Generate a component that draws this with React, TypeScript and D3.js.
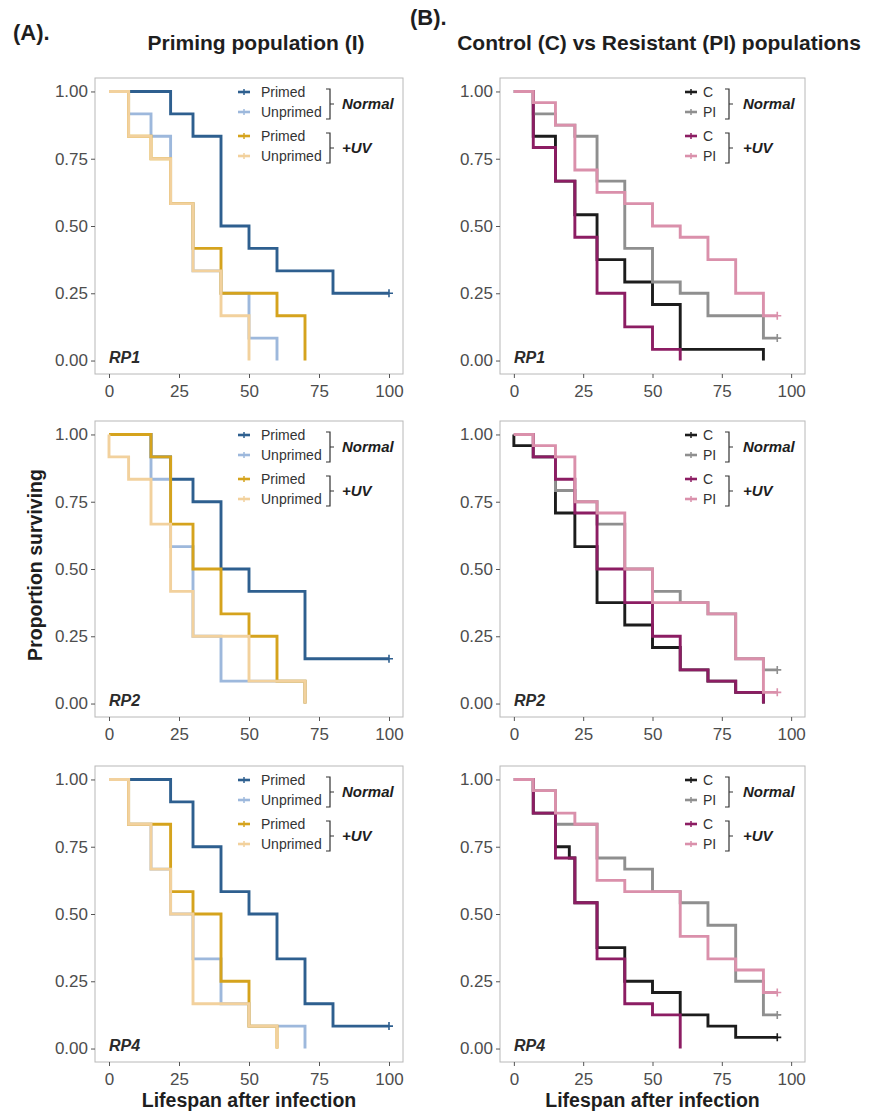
import React, { useRef, useEffect } from "react";
import * as d3 from "d3";

const xTicks = [0, 25, 50, 75, 100];
const yTicks = [0, 0.25, 0.5, 0.75, 1];
const yTickLabels = ["0.00", "0.25", "0.50", "0.75", "1.00"];

// priming population (I), 12 per group: [day, alive]
const rp1Primed = [[0, 12], [22, 11], [30, 10], [40, 6], [50, 5], [60, 4], [80, 3], [100, 3]];
const rp1Unprimed = [[0, 12], [7, 11], [15, 10], [22, 7], [30, 4], [40, 3], [50, 1], [60, 0]];
const rp1PrimedUV = [[0, 12], [7, 10], [15, 9], [22, 7], [30, 5], [40, 3], [60, 2], [70, 0]];
const rp1UnprimedUV = [[0, 12], [7, 10], [15, 9], [22, 7], [30, 4], [40, 2], [50, 0]];

const rp2Primed = [[0, 12], [15, 11], [22, 10], [30, 9], [40, 6], [50, 5], [70, 2], [100, 2]];
const rp2Unprimed = [[0, 12], [15, 10], [22, 7], [30, 3], [40, 1], [70, 0]];
const rp2PrimedUV = [[0, 12], [15, 11], [22, 8], [30, 6], [40, 4], [50, 3], [60, 1], [70, 0]];
const rp2UnprimedUV = [[0, 12], [0, 11], [7, 10], [15, 8], [22, 5], [30, 3], [50, 1], [70, 0]];

const rp4Primed = [[0, 12], [22, 11], [30, 9], [40, 7], [50, 6], [60, 4], [70, 2], [80, 1], [100, 1]];
const rp4Unprimed = [[0, 12], [7, 10], [15, 8], [22, 6], [30, 4], [40, 2], [50, 1], [70, 0]];
const rp4PrimedUV = [[0, 12], [7, 10], [22, 7], [30, 6], [40, 3], [50, 1], [60, 0]];
const rp4UnprimedUV = [[0, 12], [7, 10], [15, 8], [22, 6], [30, 2], [50, 1], [60, 0]];

// control vs resistant, 24 per group
const rp1C = [[0, 24], [7, 20], [15, 16], [22, 13], [30, 9], [40, 7], [50, 5], [60, 1], [90, 0]];
const rp1PI = [[0, 24], [7, 22], [15, 21], [22, 20], [30, 16], [40, 10], [50, 7], [60, 6], [70, 4], [90, 2], [95, 2]];
const rp1CUV = [[0, 24], [7, 19], [15, 16], [22, 11], [30, 6], [40, 3], [50, 1], [60, 0]];
const rp1PIUV = [[0, 24], [7, 23], [15, 21], [22, 17], [30, 15], [40, 14], [50, 12], [60, 11], [70, 9], [80, 6], [90, 4], [95, 4]];

const rp2C = [[0, 24], [0, 23], [7, 22], [15, 17], [22, 14], [30, 9], [40, 7], [50, 5], [60, 3], [70, 2], [80, 1], [90, 0]];
const rp2PI = [[0, 24], [7, 22], [15, 19], [22, 18], [30, 16], [40, 12], [50, 10], [60, 9], [70, 8], [80, 4], [90, 3], [95, 3]];
const rp2CUV = [[0, 24], [7, 22], [15, 20], [22, 17], [30, 12], [40, 9], [50, 6], [60, 3], [70, 2], [80, 1], [90, 0]];
const rp2PIUV = [[0, 24], [7, 23], [15, 22], [22, 18], [30, 17], [40, 12], [50, 9], [70, 8], [80, 4], [90, 1], [95, 1]];

const rp4C = [[0, 24], [7, 21], [15, 18], [20, 17], [22, 13], [30, 9], [40, 6], [50, 5], [60, 3], [70, 2], [80, 1], [95, 1]];
const rp4PI = [[0, 24], [7, 23], [15, 20], [30, 17], [40, 16], [50, 14], [60, 13], [70, 11], [80, 6], [90, 3], [95, 3]];
const rp4CUV = [[0, 24], [7, 21], [15, 17], [22, 13], [30, 8], [40, 4], [50, 3], [60, 0]];
const rp4PIUV = [[0, 24], [7, 23], [15, 21], [22, 20], [30, 15], [40, 14], [60, 10], [70, 8], [80, 7], [90, 5], [95, 5]];

const primingColors = ["#2e5f8f", "#9db8dc", "#d5a31d", "#f2d19d"];
const primingNames = ["Primed", "Unprimed", "Primed", "Unprimed"];
const resistColors = ["#1c1c1c", "#8f8f8f", "#8c1d63", "#da90ab"];
const resistNames = ["C", "PI", "C", "PI"];
const groupNames = ["Normal", "+UV"];
const panelLabels = ["RP1", "RP2", "RP4"];

const primingData = [
    [rp1Primed, rp1Unprimed, rp1PrimedUV, rp1UnprimedUV],
    [rp2Primed, rp2Unprimed, rp2PrimedUV, rp2UnprimedUV],
    [rp4Primed, rp4Unprimed, rp4PrimedUV, rp4UnprimedUV],
];
const resistData = [
    [rp1C, rp1PI, rp1CUV, rp1PIUV],
    [rp2C, rp2PI, rp2CUV, rp2PIUV],
    [rp4C, rp4PI, rp4CUV, rp4PIUV],
];

const FONT = "'Liberation Sans', Arial, Helvetica, sans-serif";

function App() {
    const svgRef = useRef(null);
    useEffect(() => {
        const svg = d3.select(svgRef.current);
        svg.selectAll("*").remove();
        svg.attr("width", 873).attr("height", 1114).style("font-family", FONT);

        const cols = [
            { x0: 95, x1: 403, n: 12, data: primingData, colors: primingColors, names: primingNames,
              legend: { line: 143, text: 166, bracket: 235, label: 247 } },
            { x0: 500, x1: 805, n: 24, data: resistData, colors: resistColors, names: resistNames,
              legend: { line: 185, text: 203, bracket: 229, label: 243 } },
        ];
        const rows = [78, 421, 766];
        const ph = 296;

        cols.forEach((col) => {
            rows.forEach((top, r) => {
                const g = svg.append("g");
                const x = d3.scaleLinear().domain([-5, 105]).range([col.x0, col.x1]);
                const y = d3.scaleLinear().domain([-0.05, 1.05]).range([top + ph, top]);

                g.append("rect")
                    .attr("x", col.x0).attr("y", top)
                    .attr("width", col.x1 - col.x0).attr("height", ph)
                    .attr("fill", "white").attr("stroke", "#b8b8b8").attr("stroke-width", 1);

                const yAxis = g.append("g")
                    .attr("transform", "translate(" + col.x0 + ",0)")
                    .call(d3.axisLeft(y).tickValues(yTicks).tickSize(4).tickPadding(3)
                        .tickFormat((d, i) => yTickLabels[i]));
                const xAxis = g.append("g")
                    .attr("transform", "translate(0," + (top + ph) + ")")
                    .call(d3.axisBottom(x).tickValues(xTicks).tickSize(4).tickPadding(7));
                [yAxis, xAxis].forEach((a) => {
                    a.select(".domain").remove();
                    a.selectAll("line").attr("stroke", "#555");
                    a.selectAll("text").style("font-size", "17px").style("font-family", FONT).attr("fill", "#4d4d4d");
                });

                const line = d3.line()
                    .x((d) => x(d[0]))
                    .y((d) => y(d[1] / col.n))
                    .curve(d3.curveStepAfter);

                col.data[r].forEach((series, i) => {
                    g.append("path")
                        .attr("d", line(series))
                        .attr("fill", "none")
                        .attr("stroke", col.colors[i])
                        .attr("stroke-width", 2.9);
                    const last = series[series.length - 1];
                    if (last[1] > 0) {
                        const cx = x(last[0]), cy = y(last[1] / col.n);
                        g.append("path")
                            .attr("d", `M${cx - 4},${cy}H${cx + 4}M${cx},${cy - 4}V${cy + 4}`)
                            .attr("stroke", col.colors[i]).attr("stroke-width", 1.6).attr("fill", "none");
                    }
                });

                g.append("text")
                    .attr("x", col.x0 + 14).attr("y", top + ph - 11)
                    .style("font-size", "16px").style("font-weight", "bold").style("font-style", "italic")
                    .attr("fill", "#2b2b2b")
                    .text(panelLabels[r]);

                // legend
                const rowOff = [14, 34, 58, 78];
                const L = col.legend;
                [0, 1].forEach((grp) => {
                    [0, 1].forEach((k) => {
                        const i = grp * 2 + k;
                        const ry = top + rowOff[i];
                        const lx = col.x0 + L.line;
                        g.append("line").attr("x1", lx).attr("x2", lx + 12).attr("y1", ry).attr("y2", ry)
                            .attr("stroke", col.colors[i]).attr("stroke-width", 2.6);
                        g.append("line").attr("x1", lx + 6).attr("x2", lx + 6).attr("y1", ry - 3).attr("y2", ry + 3)
                            .attr("stroke", col.colors[i]).attr("stroke-width", 1.5);
                        g.append("text").attr("x", col.x0 + L.text).attr("y", ry).attr("dy", "0.35em")
                            .style("font-size", "14px").attr("fill", "#333").text(col.names[i]);
                    });
                    const y0 = top + rowOff[grp * 2] - 3, y1 = top + rowOff[grp * 2 + 1] + 7;
                    const bx = col.x0 + L.bracket, ym = (y0 + y1) / 2;
                    g.append("path")
                        .attr("d", `M${bx - 4},${y0}H${bx}V${y1}H${bx - 4}M${bx},${ym}H${bx + 4}`)
                        .attr("fill", "none").attr("stroke", "#333").attr("stroke-width", 1.2);
                    g.append("text").attr("x", col.x0 + L.label).attr("y", ym).attr("dy", "0.35em")
                        .style("font-size", "15px").style("font-weight", "bold").style("font-style", "italic")
                        .attr("fill", "#1e1e1e").text(groupNames[grp]);
                });
            });

            svg.append("text")
                .attr("x", (col.x0 + col.x1) / 2).attr("y", 1107)
                .attr("text-anchor", "middle")
                .style("font-size", "19.5px").style("font-weight", "bold").attr("fill", "#1e1e1e")
                .text("Lifespan after infection");
        });

        const head = (t, xx, yy, size, anchor) =>
            svg.append("text").attr("x", xx).attr("y", yy).attr("text-anchor", anchor)
                .style("font-size", size).style("font-weight", "bold").attr("fill", "#1e1e1e").text(t);
        head("(A).", 13, 40, "22px", "start");
        head("(B).", 410, 25, "22px", "start");
        head("Priming population (I)", 256, 50, "21px", "middle");
        head("Control (C) vs Resistant (PI) populations", 659, 50, "21px", "middle");

        svg.append("text")
            .attr("transform", "translate(35,565)rotate(-90)")
            .attr("text-anchor", "middle").attr("dy", "0.35em")
            .style("font-size", "19.5px").style("font-weight", "bold").attr("fill", "#1e1e1e")
            .text("Proportion surviving");

        return () => {
            d3.select(svgRef.current).selectAll("*").remove();
        };
    }, []);

    return <svg ref={svgRef} style={{ position: "absolute", left: 0, top: 0 }} />;
}

export default App;
